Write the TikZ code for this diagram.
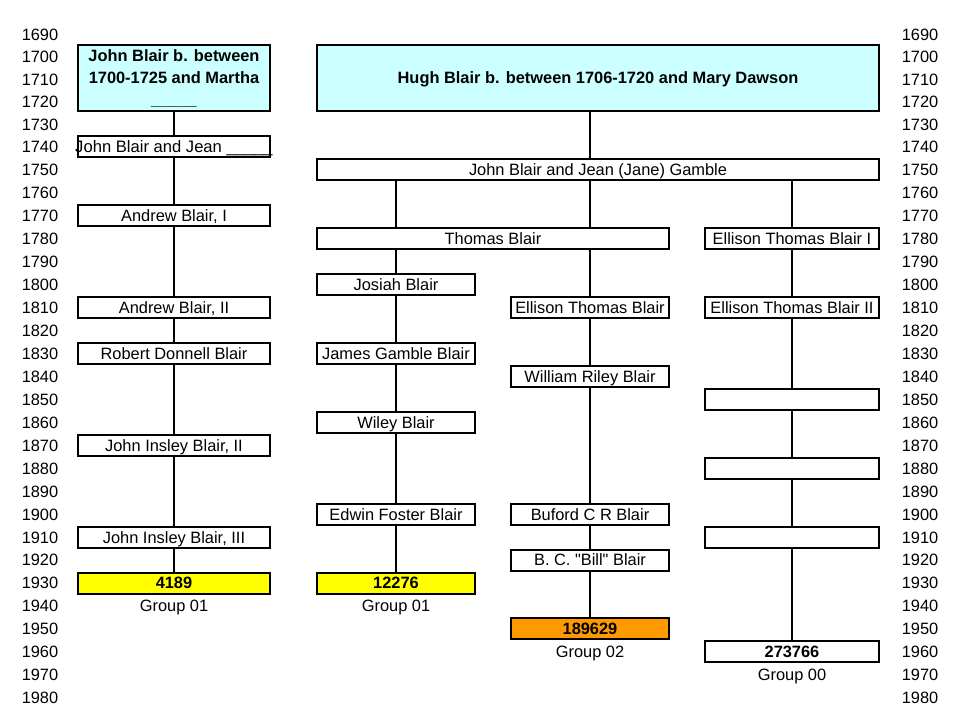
\documentclass[tikz,border=0pt]{standalone}
\usepackage{fontspec}
\setmainfont{Liberation Sans}
\newcommand{\sq}{\XeTeXglyph\XeTeXcharglyph"22\relax}
\definecolor{cyanbox}{HTML}{CCFFFF}
\definecolor{yellowbox}{HTML}{FFFF00}
\definecolor{orangebox}{HTML}{FF9900}
\begin{document}
\begin{tikzpicture}[x=0.75pt,y=-0.75pt,
  declare function={yr(\t)=147+(\t-1740)*2.295; ylab(\t)=(\t<1740)?147+(\t-1740)*2.25:147+(\t-1740)*2.295;},
  box/.style={draw=black, line width=1.5pt, fill=white, inner sep=0pt, minimum height=15.75pt, text height=8.8pt, text depth=0pt, font=\fontsize{12.3}{14}\selectfont},
  bbox/.style={box, font=\fontsize{12.3}{16.5}\selectfont\bfseries},
  wa/.style={minimum width=144pt},
  wb/.style={minimum width=118.5pt},
  wd/.style={minimum width=130.5pt},
  conn/.style={line width=1.5pt},
  yrlab/.style={font=\fontsize{12.3}{14}\selectfont, inner sep=0pt, text height=8.8pt, text depth=0pt},
  grplab/.style={font=\fontsize{12.3}{14}\selectfont, inner sep=0pt, text height=8.8pt, text depth=0pt}]
\useasboundingbox[fill=white] (0,0) rectangle (958,709);
% year labels
\foreach \t in {1690,1700,...,1980}{
  \node[yrlab] (L\t) at (40,{ylab(\t)}) {\t};
  \node[yrlab] (R\t) at (920,{ylab(\t)}) {\t};
}
% top boxes
\node[bbox, wa, fill=cyanbox, minimum height=49pt, align=center, text height=41.8pt, text depth=0pt] (jba) at (174,78) {John Blair b. between\\1700-1725 and Martha\\\_\_\_\_\_};
\node[bbox, minimum width=421.5pt, fill=cyanbox, minimum height=49pt] (hugh) at (598,78) {Hugh Blair b. between 1706-1720 and Mary Dawson};
% column 1
\node[box, wa] (jean1) at (174,{yr(1740)}) {\makebox[0pt]{\fontsize{12.45}{14}\selectfont John Blair and Jean \_\_\_\_\_}};
\node[box, wa] (andrew1) at (174,{yr(1770)}) {Andrew Blair, I};
\node[box, wa] (andrew2) at (174,{yr(1810)}) {Andrew Blair, II};
\node[box, wa] (robert) at (174,{yr(1830)}) {Robert Donnell Blair};
\node[box, wa] (jib2) at (174,{yr(1870)}) {John Insley Blair, II};
\node[box, wa] (jib3) at (174,{yr(1910)}) {John Insley Blair, III};
\node[bbox, wa, fill=yellowbox] (g4189) at (174,{yr(1930)}) {4189};
\node[grplab] (grp1) at (174,{yr(1940)}) {Group 01};
% wide boxes
\node[box, minimum width=421.5pt] (gamble) at (598,{yr(1750)}) {John Blair and Jean (Jane) Gamble};
\node[box, minimum width=264pt] (thomas) at (493,{yr(1780)}) {Thomas Blair};
% column 2
\node[box, wb] (josiah) at (396,{yr(1800)}) {Josiah Blair};
\node[box, wb] (james) at (396,{yr(1830)}) {James Gamble Blair};
\node[box, wb] (wiley) at (396,{yr(1860)}) {Wiley Blair};
\node[box, wb] (edwin) at (396,{yr(1900)}) {Edwin Foster Blair};
\node[bbox, wb, fill=yellowbox] (g12276) at (396,{yr(1930)}) {12276};
\node[grplab] (grp2) at (396,{yr(1940)}) {Group 01};
% column 3
\node[box, wb] (ellison) at (590,{yr(1810)}) {Ellison Thomas Blair};
\node[box, wb] (william) at (590,{yr(1840)}) {William Riley Blair};
\node[box, wb] (buford) at (590,{yr(1900)}) {Buford C R Blair};
\node[box, wb] (bill) at (590,{yr(1920)}) {B. C. \sq Bill\sq{} Blair};
\node[bbox, wb, fill=orangebox] (g189629) at (590,{yr(1950)}) {189629};
\node[grplab] (grp3) at (590,{yr(1960)}) {Group 02};
% column 4
\node[box, wd] (eti) at (792,{yr(1780)}) {Ellison Thomas Blair I};
\node[box, wd] (etii) at (792,{yr(1810)}) {Ellison Thomas Blair II};
\node[box, wd] (e1850) at (792,{yr(1850)}) {};
\node[box, wd] (e1880) at (792,{yr(1880)}) {};
\node[box, wd] (e1910) at (792,{yr(1910)}) {};
\node[bbox, wd] (g273766) at (792,{yr(1960)}) {273766};
\node[grplab] (grp4) at (792,{yr(1970)}) {Group 00};
% connectors column 1
\draw[conn] (jba.south) -- (jean1.north);
\draw[conn] (jean1.south) -- (andrew1.north);
\draw[conn] (andrew1.south) -- (andrew2.north);
\draw[conn] (andrew2.south) -- (robert.north);
\draw[conn] (robert.south) -- (jib2.north);
\draw[conn] (jib2.south) -- (jib3.north);
\draw[conn] (jib3.south) -- (g4189.north);
% connectors Hugh
\draw[conn] (hugh.south -| ellison.north) -- (gamble.north -| ellison.north);
\draw[conn] (gamble.south -| josiah.north) -- (thomas.north -| josiah.north);
\draw[conn] (gamble.south -| ellison.north) -- (thomas.north -| ellison.north);
\draw[conn] (gamble.south -| eti.north) -- (eti.north);
\draw[conn] (thomas.south -| josiah.north) -- (josiah.north);
\draw[conn] (thomas.south -| ellison.north) -- (ellison.north);
% column 2
\draw[conn] (josiah.south) -- (james.north);
\draw[conn] (james.south) -- (wiley.north);
\draw[conn] (wiley.south) -- (edwin.north);
\draw[conn] (edwin.south) -- (g12276.north);
% column 3
\draw[conn] (ellison.south) -- (william.north);
\draw[conn] (william.south) -- (buford.north);
\draw[conn] (buford.south) -- (bill.north);
\draw[conn] (bill.south) -- (g189629.north);
% column 4
\draw[conn] (eti.south) -- (etii.north);
\draw[conn] (etii.south) -- (e1850.north);
\draw[conn] (e1850.south) -- (e1880.north);
\draw[conn] (e1880.south) -- (e1910.north);
\draw[conn] (e1910.south) -- (g273766.north);
\end{tikzpicture}
\end{document}
